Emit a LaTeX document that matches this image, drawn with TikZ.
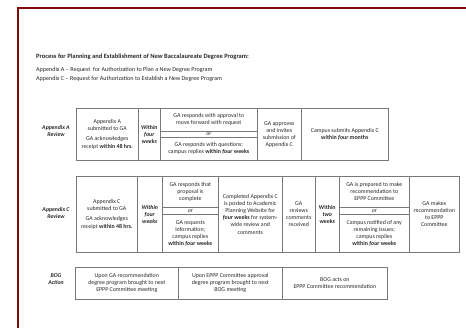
\documentclass[tikz,border=0pt]{standalone}
\usepackage{fontspec}
\setmainfont{Carlito}
\definecolor{framered}{RGB}{128,10,10}
\definecolor{linegray}{RGB}{120,120,120}
\definecolor{txt}{RGB}{40,40,40}
\tikzset{
  cell/.style={draw=linegray, line width=0.6pt, inner sep=0pt, anchor=north west,
    align=center, text=txt, font=\fontsize{5.9}{7.1}\selectfont},
  rowlabel/.style={align=center, text=txt, font=\fontsize{5.8}{7}\selectfont\bfseries\itshape},
  plain/.style={anchor=west, inner sep=0pt, text=txt, font=\fontsize{6.1}{7}\selectfont}
}
\newcommand{\wfw}{\textbf{within \textit{four} weeks}}
\begin{document}
\begin{tikzpicture}[x=1pt,y=-1pt]
\useasboundingbox[fill=white] (0,0) rectangle (466,328);
% frame
\draw[framered, line width=2pt] (17.5,328) -- (17.5,8.5) -- (466,8.5);
% headings
\node[plain, font=\fontsize{6.5}{7}\selectfont\bfseries] (title) at (36,57) {Process for Planning and Establishment of New Baccalaureate Degree Program:};
\node[plain] (appa) at (36,70) {Appendix A -- Request\ \ for Authorization to Plan a New Degree Program};
\node[plain] (appc) at (36,78.5) {Appendix C -- Request for Authorization to Establish a New Degree Program};
% row labels
\node[rowlabel] (la) at (56,131) {Appendix A\\Review};
\node[rowlabel] (lc) at (56,213) {Appendix C\\Review};
\node[rowlabel] (lb) at (56,279) {BOG\\Action};
% table A
\node[cell, minimum width=62pt, minimum height=52pt] (a1) at (76,108) {Appendix A\\submitted to GA\\[3pt]GA acknowledges\\receipt \textbf{within 48 hrs.}};
\node[cell, minimum width=22pt, minimum height=52pt] (a2) at (138,108) {\textbf{\textit{Within}}\\\textbf{\textit{four}}\\\textbf{\textit{weeks}}};
\node[cell, minimum width=97pt, minimum height=23pt] (a3t) at (160,108) {GA responds with approval to\\move forward with request};
\node[cell, minimum width=97pt, minimum height=6pt] (a3o) at (160,131) {\textit{or}};
\node[cell, minimum width=97pt, minimum height=23pt] (a3b) at (160,137) {GA responds with questions;\\campus replies \wfw};
\node[cell, minimum width=44pt, minimum height=52pt] (a4) at (257,108) {GA approves\\and invites\\submission of\\Appendix C};
\node[cell, minimum width=87pt, minimum height=52pt] (a5) at (301,108) {Campus submits Appendix C\\\textbf{within \textit{four} months}};
% table C
\node[cell, minimum width=61pt, minimum height=76pt] (c1) at (76,176) {Appendix C\\submitted to GA\\[3pt]GA acknowledges\\receipt \textbf{within 48 hrs.}};
\node[cell, minimum width=25pt, minimum height=76pt] (c2) at (137,176) {\textbf{\textit{Within}}\\\textbf{\textit{four}}\\\textbf{\textit{weeks}}};
\node[cell, minimum width=56pt, minimum height=31pt] (c3t) at (162,176) {GA responds that\\proposal is\\complete};
\node[cell, minimum width=56pt, minimum height=7pt] (c3o) at (162,207) {\textit{or}};
\node[cell, minimum width=56pt, minimum height=38pt] (c3b) at (162,214) {GA requests\\information;\\campus replies\\\wfw};
\node[cell, minimum width=64pt, minimum height=76pt] (c4) at (218,176) {Completed Appendix C\\is posted to Academic\\Planning Website for\\\textbf{\textit{four} weeks} for system-\\wide review and\\comments};
\node[cell, minimum width=33pt, minimum height=76pt] (c5) at (282,176) {GA\\reviews\\comments\\received};
\node[cell, minimum width=24pt, minimum height=76pt] (c6) at (315,176) {\textbf{Within}\\\textbf{\textit{two}}\\\textbf{weeks}};
\node[cell, minimum width=70pt, minimum height=31pt] (c7t) at (339,176) {GA is prepared to make\\recommendation to\\EPPP Committee};
\node[cell, minimum width=70pt, minimum height=7pt] (c7o) at (339,207) {\textit{or}};
\node[cell, minimum width=70pt, minimum height=38pt] (c7b) at (339,214) {Campus notified of any\\remaining issues;\\campus replies\\\wfw};
\node[cell, minimum width=50pt, minimum height=76pt] (c8) at (409,176) {GA makes\\recommendation\\to EPPP\\Committee};
% table BOG
\node[cell, minimum width=103pt, minimum height=32pt] (b1) at (75,267) {Upon GA recommendation\\degree program brought to next\\EPPP Committee meeting};
\node[cell, minimum width=104pt, minimum height=32pt] (b2) at (178,267) {Upon EPPP Committee approval\\degree program brought to next\\BOG meeting};
\node[cell, minimum width=105pt, minimum height=32pt] (b3) at (282,267) {BOG acts on\\EPPP Committee recommendation};
\end{tikzpicture}
\end{document}
